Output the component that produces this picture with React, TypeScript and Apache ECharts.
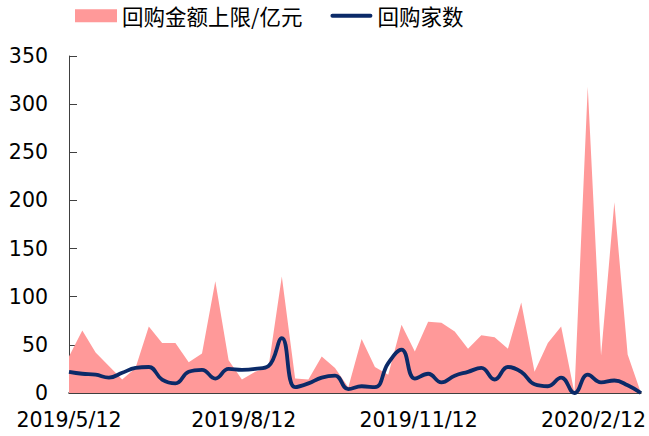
import React, { useEffect, useRef } from "react";
import * as echarts from "echarts";

const dates = [
  "2019/5/12", "2019/5/19", "2019/5/26", "2019/6/2", "2019/6/9", "2019/6/16", "2019/6/23", "2019/6/30",
  "2019/7/7", "2019/7/14", "2019/7/21", "2019/7/28", "2019/8/4", "2019/8/11", "2019/8/18", "2019/8/25",
  "2019/9/1", "2019/9/8", "2019/9/15", "2019/9/22", "2019/9/29", "2019/10/6", "2019/10/13", "2019/10/20",
  "2019/10/27", "2019/11/3", "2019/11/10", "2019/11/17", "2019/11/24", "2019/12/1", "2019/12/8", "2019/12/15",
  "2019/12/22", "2019/12/29", "2020/1/5", "2020/1/12", "2020/1/19", "2020/1/26", "2020/2/2", "2020/2/9",
  "2020/2/16", "2020/2/23", "2020/3/1", "2020/3/8",
];

const amountUpper = [
  38, 65, 42, 28, 14, 26, 69, 52, 52, 32, 41, 116, 34, 14, 22, 27, 121, 15, 14, 38, 26, 6, 56, 27,
  19, 71, 43, 74, 73, 64, 46, 60, 58, 46, 94, 22, 52, 69, 0, 318, 39, 198, 40, 0,
];

const companyCount = [
  22, 20, 19, 16, 21, 26, 27, 14, 10, 22, 24, 15, 25, 24, 25, 28, 57, 6, 10, 16, 18, 4, 7, 6,
  31, 45, 15, 20, 11, 18, 22, 26, 14, 27, 22, 9, 7, 16, 0, 19, 11, 13, 8, 0,
];

const tickLabels = ["2019/5/12", "2019/8/12", "2019/11/12", "2020/2/12"];
const yTicks = { min: 0, max: 350, interval: 50 };

const seriesNames = ["回购金额上限/亿元", "回购家数"];

const toTs = (s: string) => {
  const [y, m, d] = s.split("/").map(Number);
  return Date.UTC(y, m - 1, d);
};
const fmt = (v: number) => {
  const dt = new Date(v);
  return `${dt.getUTCFullYear()}/${dt.getUTCMonth() + 1}/${dt.getUTCDate()}`;
};

const axisFont = "DejaVu Sans";

export default function App() {
  const ref = useRef<HTMLDivElement>(null);
  useEffect(() => {
    if (!ref.current) return;
    const chart = echarts.init(ref.current, undefined, { renderer: "svg" });
    const tickTs = tickLabels.map(toTs);
    chart.setOption({
      animation: false,
      backgroundColor: "#fff",
      grid: { left: 69, right: 6, top: 56, bottom: 43, containLabel: false },
      legend: {
        left: 75,
        top: 5,
        padding: 0,
        itemWidth: 42,
        itemHeight: 13,
        itemGap: 28,
        textStyle: { fontFamily: "Noto Sans CJK SC", fontSize: 21.5, color: "#000" },
        data: [
          { name: seriesNames[0], icon: "rect", itemStyle: { color: "#FF9999" } },
          { name: seriesNames[1], icon: "path://M2,0 L41,0 A2,2 0 0 1 41,4 L2,4 A2,2 0 0 1 2,0 Z", itemStyle: { color: "#0B2A68" } },
        ],
      },
      xAxis: {
        type: "value",
        min: toTs(dates[0]),
        max: toTs(dates[dates.length - 1]),
        splitLine: { show: false },
        axisLine: { show: true, lineStyle: { color: "#000", width: 1.5 } },
        axisTick: { show: true, inside: true, length: 7, customValues: tickTs, lineStyle: { color: "#000" } },
        axisLabel: {
          customValues: tickTs,
          formatter: (v: number) => fmt(v),
          fontFamily: axisFont,
          fontSize: 20.5,
          color: "#000",
          margin: 16,
        },
      },
      yAxis: {
        type: "value",
        min: yTicks.min,
        max: yTicks.max,
        interval: yTicks.interval,
        splitLine: { show: false },
        axisLine: { show: true, lineStyle: { color: "#404040", width: 1 } },
        axisTick: { show: true, inside: true, length: 8, lineStyle: { color: "#404040" } },
        axisLabel: { fontFamily: axisFont, fontSize: 20.5, color: "#000", margin: 21 },
      },
      series: [
        {
          name: seriesNames[0],
          type: "line",
          data: dates.map((d, i) => [toTs(d), amountUpper[i]]),
          symbol: "none",
          lineStyle: { width: 0 },
          areaStyle: { color: "#FF9999", opacity: 1 },
          itemStyle: { color: "#FF9999" },
          z: 1,
        },
        {
          name: seriesNames[1],
          type: "line",
          data: dates.map((d, i) => [toTs(d), companyCount[i]]),
          symbol: "none",
          smooth: 0.45,
          lineStyle: { width: 3.8, color: "#0B2A68" },
          itemStyle: { color: "#0B2A68" },
          z: 3,
        },
      ],
    });
    return () => chart.dispose();
  }, []);
  return <div ref={ref} style={{ width: 649, height: 436, position: "absolute", left: 0, top: 0 }} />;
}
